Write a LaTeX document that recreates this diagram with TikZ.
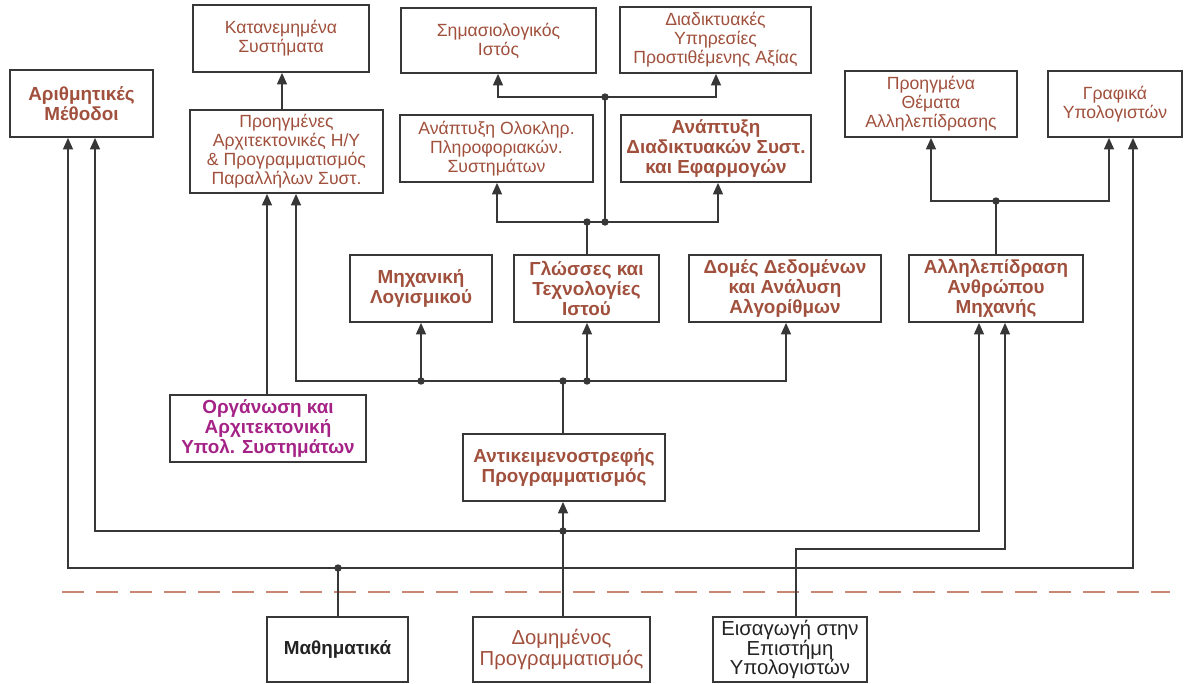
\documentclass[tikz,border=0pt]{standalone}
\usepackage{fontspec}
\setmainfont{Liberation Sans}
\usetikzlibrary{arrows.meta}
\definecolor{brn}{RGB}{160,80,60}
\definecolor{mag}{RGB}{165,35,135}
\definecolor{ink}{RGB}{35,35,35}
\definecolor{edge}{RGB}{55,55,55}
\definecolor{dsh}{RGB}{200,135,115}
\newcommand\pbox[7][]{\node[box,#1,minimum width={(#5-#3)*0.567pt},minimum height={(#6-#4)*0.567pt}] (#2) at ({(#3+#5)/2},{(#4+#6)/2}) {#7};}
\tikzset{
  box/.style={draw=edge, line width=0.9pt, fill=white, align=center, inner sep=1pt, text=brn, font=\fontsize{10}{10.8}\selectfont},
  bbox/.style={box, font=\bfseries\fontsize{10.7}{11.2}\selectfont},
  ln/.style={draw=edge, line width=1.1pt},
  arr/.style={ln, -{Triangle[length=6.5pt,width=5.5pt]}},
  jdot/.style={fill=edge},
  dashln/.style={draw=dsh, line width=1.6pt, dash pattern=on 12.5pt off 6.8pt}
}
\begin{document}
\begin{tikzpicture}[x=0.567pt, y=-0.567pt]
\useasboundingbox (0,0) rectangle (1184,683);
% separator
\draw[dashln] (62,592) -- (1170,592);
% boxes
\pbox[bbox]{arith}{10}{70}{153}{137}{Αριθμητικές\\Μέθοδοι}
\pbox{katan}{193}{5}{369}{72}{Κατανεμημένα\\Συστήματα}
\pbox{proarch}{190}{110}{383}{193}{Προηγμένες\\Αρχιτεκτονικές Η/Υ\\\& Προγραμματισμός\\Παραλλήλων Συστ.}
\pbox{semweb}{401}{8}{596}{73}{Σημασιολογικός\\Ιστός}
\pbox{webserv}{620}{7}{811}{73}{Διαδικτυακές\\Υπηρεσίες\\Προστιθέμενης Αξίας}
\pbox{integr}{400}{115}{593}{182}{Ανάπτυξη Ολοκληρ.\\Πληροφοριακών.\\Συστημάτων}
\pbox[bbox]{webdev}{621}{115}{811}{182}{Ανάπτυξη\\Διαδικτυακών Συστ.\\και Εφαρμογών}
\pbox{advhci}{845}{71}{1017}{137}{Προηγμένα\\Θέματα\\Αλληλεπίδρασης}
\pbox{graph}{1048}{71}{1182}{137}{Γραφικά\\Υπολογιστών}
\pbox[bbox]{swe}{350}{255}{492}{322}{Μηχανική\\Λογισμικού}
\pbox[bbox]{webtech}{514}{255}{659}{322}{Γλώσσες και\\Τεχνολογίες\\Ιστού}
\pbox[bbox]{dsa}{689}{255}{881}{322}{Δομές Δεδομένων\\και Ανάλυση\\Αλγορίθμων}
\pbox[bbox]{hci}{909}{255}{1083}{322}{Αλληλεπίδραση\\Ανθρώπου\\Μηχανής}
\pbox[bbox,text=mag]{org}{170}{395}{366}{462}{Οργάνωση και\\Αρχιτεκτονική\\Υπολ. Συστημάτων}
\pbox[bbox]{oop}{463}{434}{665}{501}{Αντικειμενοστρεφής\\Προγραμματισμός}
\pbox[bbox,text=ink]{math}{267}{617}{408}{682}{Μαθηματικά}
\pbox[box,font=\fontsize{11.5}{12}\selectfont]{sp}{473}{617}{650}{682}{Δομημένος\\Προγραμματισμός}
\pbox[box,text=ink,font=\fontsize{11.5}{11.2}\selectfont]{intro}{713}{617}{867}{682}{Εισαγωγή στην\\Επιστήμη\\Υπολογιστών}
% helper coordinates
\coordinate (jm) at (338,568);
\coordinate (js) at (563,531);
\coordinate (ji) at (796,549);
\coordinate (jo) at (563,381);
\coordinate (jsw) at (421,381);
\coordinate (jwt) at (587,381);
\coordinate (jw) at (587,222);
\coordinate (jw2) at (605,222);
\coordinate (jt) at (605,97);
\coordinate (jh) at (996,201);
\coordinate (xa1) at (68,0);
\coordinate (xa2) at (95,0);
\coordinate (xg1) at (1109,0);
\coordinate (xg2) at (1133,0);
\coordinate (xh1) at (979,0);
\coordinate (xh2) at (1005,0);
\coordinate (xp1) at (267,0);
\coordinate (xp2) at (296,0);
\coordinate (xd) at (786,0);
\coordinate (xk) at (282,0);
\coordinate (xi) at (497,0);
\coordinate (xwd) at (718,0);
\coordinate (xs) at (498,0);
\coordinate (xws) at (716,0);
\coordinate (xah) at (931,0);
% Mathematics
\draw[ln] (math.north -| jm) -- (jm);
\draw[arr] (jm) -| (xa1 |- arith.south);
\draw[arr] (jm) -| (xg2 |- graph.south);
% Structured programming
\draw[ln] (sp.north -| js) -- (js);
\draw[arr] (js) -- (js |- oop.south);
\draw[arr] (js) -| (xa2 |- arith.south);
\draw[arr] (js) -| (xh1 |- hci.south);
% Intro CS
\draw[arr] (intro.north -| ji) -- (ji) -| (xh2 |- hci.south);
% OOP
\draw[ln] (oop.north -| jo) -- (jo);
\draw[arr] (jo) -| (xp2 |- proarch.south);
\draw[arr] (jo) -| (xd |- dsa.south);
\draw[arr] (jsw) -- (jsw |- swe.south);
\draw[arr] (jwt) -- (jwt |- webtech.south);
% Organisation
\draw[arr] (xp1 |- org.north) -- (xp1 |- proarch.south);
% Advanced architectures
\draw[arr] (xk |- proarch.north) -- (xk |- katan.south);
% Web technologies
\draw[ln] (webtech.north -| jw) -- (jw);
\draw[arr] (jw) -| (xi |- integr.south);
\draw[arr] (jw) -| (xwd |- webdev.south);
\draw[ln] (jw2) -- (jt);
\draw[arr] (jt) -| (xs |- semweb.south);
\draw[arr] (jt) -| (xws |- webserv.south);
% HCI
\draw[ln] (hci.north -| jh) -- (jh);
\draw[arr] (jh) -| (xah |- advhci.south);
\draw[arr] (jh) -| (xg1 |- graph.south);
% junction dots
\foreach \p in {jm,js,jo,jsw,jwt,jw,jw2,jt,jh} \fill[jdot] (\p) circle (2.1pt);
\end{tikzpicture}
\end{document}
